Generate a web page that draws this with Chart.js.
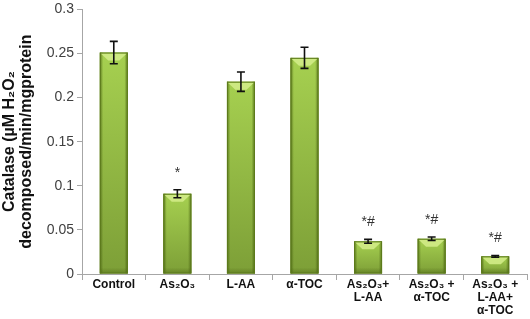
<!DOCTYPE html>
<html>
<head>
<meta charset="utf-8">
<script src="https://cdn.jsdelivr.net/npm/chart.js@4/dist/chart.umd.min.js"></script>
<style>
  html, body { margin: 0; padding: 0; background: #fff; }
  #wrap { width: 530px; height: 319px; }
</style>
</head>
<body>
<div id="wrap"><canvas id="c" width="530" height="319"></canvas></div>
<script>
const categories = [
  ['Control'],
  ['As\u2082O\u2083'],
  ['L-AA'],
  ['\u03b1-TOC'],
  ['As\u2082O\u2083+', 'L-AA'],
  ['As\u2082O\u2083 +', '\u03b1-TOC'],
  ['As\u2082O\u2083 +', 'L-AA+', '\u03b1-TOC']
];
const values = [0.251, 0.091, 0.218, 0.245, 0.037, 0.040, 0.020];
const errors = [0.0127, 0.0045, 0.011, 0.012, 0.0022, 0.002, 0.001];
const marks = ['', '*', '', '', '*#', '*#', '*#'];
const yTicks = [0, 0.05, 0.1, 0.15, 0.2, 0.25, 0.3];
const yTickLabels = ['0', '0.05', '0.1', '0.15', '0.2', '0.25', '0.3'];
const yTitle = ['Catalase (\u00b5M H\u2082O\u2082', 'decomposed/min/mgprotein'];

const barStyle = {
  id: 'barStyle',
  afterDatasetsDraw(chart) {
    const ctx = chart.ctx;
    const y = chart.scales.y;
    chart.getDatasetMeta(0).data.forEach((el, i) => {
      const l = el.x - el.width / 2, r = el.x + el.width / 2;
      const t = el.y, b = el.base, w = el.width;
      ctx.save();
      const gv = ctx.createLinearGradient(0, t, 0, b);
      gv.addColorStop(0, '#a6d050');
      gv.addColorStop(1, '#7d9f37');
      ctx.fillStyle = gv;
      ctx.fillRect(l, t, w, b - t);
      const gh = ctx.createLinearGradient(l, 0, r, 0);
      gh.addColorStop(0, 'rgba(70,95,15,0.75)');
      gh.addColorStop(0.12, 'rgba(70,95,15,0.0)');
      gh.addColorStop(0.88, 'rgba(70,95,15,0.0)');
      gh.addColorStop(1, 'rgba(70,95,15,0.75)');
      ctx.fillStyle = gh;
      ctx.fillRect(l, t, w, b - t);
      const bandH = Math.min(6, (b - t) / 3);
      const gb = ctx.createLinearGradient(0, b - bandH, 0, b);
      gb.addColorStop(0, 'rgba(70,95,15,0)');
      gb.addColorStop(1, 'rgba(70,95,15,0.45)');
      ctx.fillStyle = gb;
      ctx.fillRect(l, b - bandH, w, bandH);
      const h = Math.min(8, (b - t) / 2);
      ctx.fillStyle = 'rgba(210,235,135,0.9)';
      ctx.beginPath();
      ctx.moveTo(l + 1, t + 1);
      ctx.lineTo(r - 1, t + 1);
      ctx.lineTo(el.x + w * 0.2, t + h);
      ctx.lineTo(el.x - w * 0.2, t + h);
      ctx.closePath();
      ctx.fill();
      ctx.strokeStyle = '#5d7b1c';
      ctx.lineWidth = 1;
      ctx.strokeRect(l + 0.5, t + 0.5, w - 1, b - t - 1);
      ctx.restore();

      const top = y.getPixelForValue(values[i] + errors[i]);
      const bot = y.getPixelForValue(values[i] - errors[i]);
      ctx.save();
      ctx.strokeStyle = '#111';
      ctx.lineWidth = 1.6;
      ctx.beginPath();
      ctx.moveTo(el.x, top); ctx.lineTo(el.x, bot);
      ctx.moveTo(el.x - 4, top); ctx.lineTo(el.x + 4, top);
      ctx.moveTo(el.x - 4, bot); ctx.lineTo(el.x + 4, bot);
      ctx.stroke();
      if (marks[i]) {
        ctx.fillStyle = '#333';
        ctx.font = '14px "Liberation Sans", Arial, sans-serif';
        ctx.textAlign = 'center';
        ctx.textBaseline = 'middle';
        ctx.fillText(marks[i], el.x, top - 17);
      }
      ctx.restore();
    });
  }
};

new Chart(document.getElementById('c'), {
  type: 'bar',
  data: {
    labels: categories,
    datasets: [{
      data: values,
      backgroundColor: '#8db53a',
      borderColor: '#5f7d1c',
      borderWidth: 1,
      categoryPercentage: 1,
      barPercentage: 0.44
    }]
  },
  options: {
    responsive: false,
    animation: false,
    layout: { padding: { top: 0, right: 3, left: 0, bottom: 0 } },
    plugins: { legend: { display: false }, tooltip: { enabled: false } },
    scales: {
      x: {
        grid: { drawOnChartArea: false, drawTicks: true, tickLength: 6, color: '#a6a6a6', offset: true },
        border: { color: '#a6a6a6', width: 1 },
        ticks: {
          color: '#111',
          font: { family: '"Liberation Sans", Arial, sans-serif', size: 12, weight: 'bold', lineHeight: 1.1 },
          maxRotation: 0, autoSkip: false, padding: -2
        },
        afterFit(s) { s.height = 45; }
      },
      y: {
        min: 0, max: 0.3,
        afterBuildTicks(s) { s.ticks = yTicks.map(v => ({ value: v })); },
        grid: { drawOnChartArea: false, drawTicks: true, tickLength: 5, color: '#a6a6a6' },
        border: { color: '#a6a6a6', width: 1 },
        ticks: {
          color: '#404040',
          font: { family: '"Liberation Sans", Arial, sans-serif', size: 14, lineHeight: 0.9 },
          padding: 3,
          callback(v, i) { return yTickLabels[i]; }
        },
        title: {
          display: true,
          text: yTitle,
          color: '#111',
          font: { family: '"Liberation Sans", Arial, sans-serif', size: 16, weight: 'bold', lineHeight: 1.05 },
          padding: { top: 1, bottom: 0 }
        },
        afterFit(s) { s.width = 82; }
      }
    }
  },
  plugins: [barStyle]
});
</script>
</body>
</html>
